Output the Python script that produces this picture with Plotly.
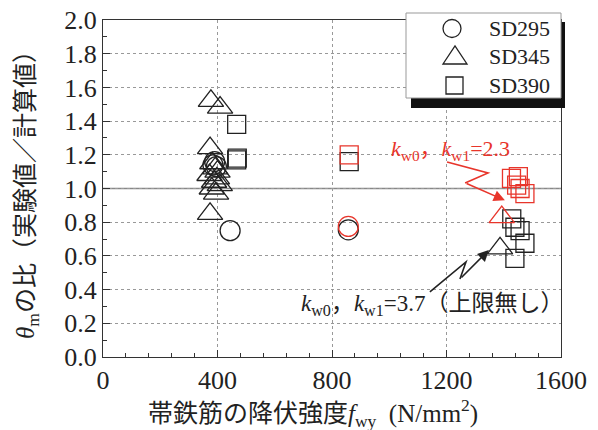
import plotly.graph_objects as go

# --- data: ratio of measured / calculated theta_m vs. hoop yield strength ---
sd295_x = [384, 390, 396, 444, 857]
sd295_y = [1.14, 1.16, 1.13, 0.75, 0.755]
sd295_red_x = [857]
sd295_red_y = [0.775]

sd345_x = [377, 409, 374, 382, 392, 400, 372, 398, 388, 408, 380, 395, 374, 1387]
sd345_y = [1.52, 1.48, 1.24, 1.15, 1.12, 1.10, 1.08, 1.06, 1.04, 1.02, 1.00, 0.97, 0.85, 0.645]
sd345_red_x = [1393]
sd345_red_y = [0.83]

sd390_x = [467, 467, 469, 860, 1428, 1439, 1457, 1474, 1439]
sd390_y = [1.38, 1.17, 1.18, 1.16, 0.82, 0.77, 0.75, 0.675, 0.585]
sd390_red_x = [860, 1427, 1451, 1445, 1457, 1474]
sd390_red_y = [1.20, 1.06, 1.07, 1.02, 1.00, 0.97]

x_ticks = [0, 400, 800, 1200, 1600]
y_ticks = [0.0, 0.2, 0.4, 0.6, 0.8, 1.0, 1.2, 1.4, 1.6, 1.8, 2.0]

legend_names = ["SD295", "SD345", "SD390"]

BLACK = "#222222"
RED = "#e8352b"
SERIF = "Liberation Serif, Times New Roman, serif"
JP = "Liberation Serif, Noto Sans CJK JP, serif"

# plot-area geometry in pixels
W, H = 598, 430
ML, MR, MT, MB = 103, 37, 20, 73
PW, PH = W - ML - MR, H - MT - MB


def px(xp):
    return (xp - ML) / PW


def py(yp):
    return (H - MB - yp) / PH


SIZES = {"circle-open": 20, "triangle-up-open": 22, "square-open": 18}

fig = go.Figure()


def add(x, y, symbol, color, name):
    fig.add_trace(go.Scatter(
        x=x, y=y, mode="markers", name=name, showlegend=False,
        marker=dict(symbol=symbol, size=SIZES[symbol], color=color,
                    line=dict(color=color, width=1.3)),
    ))


add(sd295_x, sd295_y, "circle-open", BLACK, "SD295")
add(sd345_x, sd345_y, "triangle-up-open", BLACK, "SD345")
add(sd390_x, sd390_y, "square-open", BLACK, "SD390")
add(sd295_red_x, sd295_red_y, "circle-open", RED, "SD295")
add(sd345_red_x, sd345_red_y, "triangle-up-open", RED, "SD345")
add(sd390_red_x, sd390_red_y, "square-open", RED, "SD390")

key_line = dict(color=BLACK, width=1.3)
shapes = [
    # reference line at ratio = 1.0
    dict(type="line", xref="x", yref="y", x0=0, x1=1600, y0=1.0, y1=1.0,
         line=dict(color="#888888", width=1.5), layer="below"),
    # zig-zag leader lines
    dict(type="path", xref="x", yref="y",
         path="M1202,1.157 L1345,1.092 L1265,1.033",
         line=dict(color=RED, width=1.6)),
    dict(type="path", xref="x", yref="y",
         path="M1142,0.386 L1268,0.564 L1247,0.463",
         line=dict(color=BLACK, width=1.6)),
    # legend frame with drop shadow
    dict(type="rect", xref="paper", yref="paper",
         x0=px(411), x1=px(565), y0=py(108), y1=py(22),
         fillcolor="#111111", line=dict(width=0), layer="above"),
    dict(type="rect", xref="paper", yref="paper",
         x0=px(406), x1=px(561), y0=py(98), y1=py(13),
         fillcolor="white", line=dict(color="#999999", width=1), layer="above"),
    # legend keys
    dict(type="circle", xref="paper", yref="paper",
         x0=px(443), x1=px(461), y0=py(37.5), y1=py(19.5),
         line=key_line, layer="above"),
    dict(type="path", xref="paper", yref="paper",
         path=f"M{px(443)},{py(64)} L{px(467)},{py(64)} L{px(455)},{py(46)} Z",
         line=key_line, layer="above"),
    dict(type="rect", xref="paper", yref="paper",
         x0=px(446), x1=px(463), y0=py(94), y1=py(77),
         line=key_line, layer="above"),
]

annotations = [
    dict(x=1404, y=0.93, ax=1265, ay=1.033, xref="x", yref="y", axref="x", ayref="y",
         text="", showarrow=True, arrowhead=2, arrowsize=1.4, arrowwidth=1.6, arrowcolor=RED),
    dict(x=1348, y=0.635, ax=1247, ay=0.463, xref="x", yref="y", axref="x", ayref="y",
         text="", showarrow=True, arrowhead=2, arrowsize=1.4, arrowwidth=1.6, arrowcolor=BLACK),
    dict(x=px(450), y=py(150), xref="paper", yref="paper", showarrow=False,
         xanchor="center", yanchor="middle",
         text="<i>k</i><sub>w0</sub>，<i>k</i><sub>w1</sub>=2.3",
         font=dict(family=JP, size=22, color=RED)),
    dict(x=px(432), y=py(305), xref="paper", yref="paper", showarrow=False,
         xanchor="center", yanchor="middle",
         text="<i>k</i><sub>w0</sub>，<i>k</i><sub>w1</sub>=3.7（上限無し）",
         font=dict(family=JP, size=23, color=BLACK)),
    # x-axis title
    dict(x=px(313), y=py(413), xref="paper", yref="paper", showarrow=False,
         xanchor="center", yanchor="middle",
         text="帯鉄筋の降伏強度<i>f</i><sub>wy</sub>  (N/mm<sup>2</sup>)",
         font=dict(family=JP, size=25, color=BLACK)),
]
for name, row in zip(legend_names, [28, 56, 85]):
    annotations.append(dict(x=px(487), y=py(row), xref="paper", yref="paper",
                            showarrow=False, xanchor="left", yanchor="middle",
                            text=name, font=dict(family=SERIF, size=22, color=BLACK)))

axis_common = dict(
    showline=True, linecolor="#333333", linewidth=1, mirror=True,
    ticks="inside", ticklen=7, tickcolor="#333333",
    showgrid=True, gridcolor="#999999", griddash="dot", gridwidth=1,
    zeroline=False, tickfont=dict(family=SERIF, size=26, color=BLACK),
)

fig.update_layout(
    width=W, height=H,
    font=dict(family=JP, color=BLACK),
    margin=dict(l=ML, r=MR, t=MT, b=MB, autoexpand=False),
    paper_bgcolor="white", plot_bgcolor="white",
    shapes=shapes, annotations=annotations, showlegend=False,
    xaxis=dict(axis_common, range=[0, 1600], tickvals=x_ticks,
               minor=dict(dtick=80, ticks="inside", ticklen=4, tickcolor="#333333", showgrid=False)),
    yaxis=dict(axis_common, range=[0, 2.0], tickvals=y_ticks, tickformat=".1f",
               minor=dict(dtick=0.1, ticks="inside", ticklen=4, tickcolor="#333333", showgrid=False),
               title=dict(text="<i>θ</i><sub>m</sub>の比（実験値／計算値）",
                          font=dict(family=JP, size=25, color=BLACK), standoff=22)),
)

fig.write_html("out.html")
